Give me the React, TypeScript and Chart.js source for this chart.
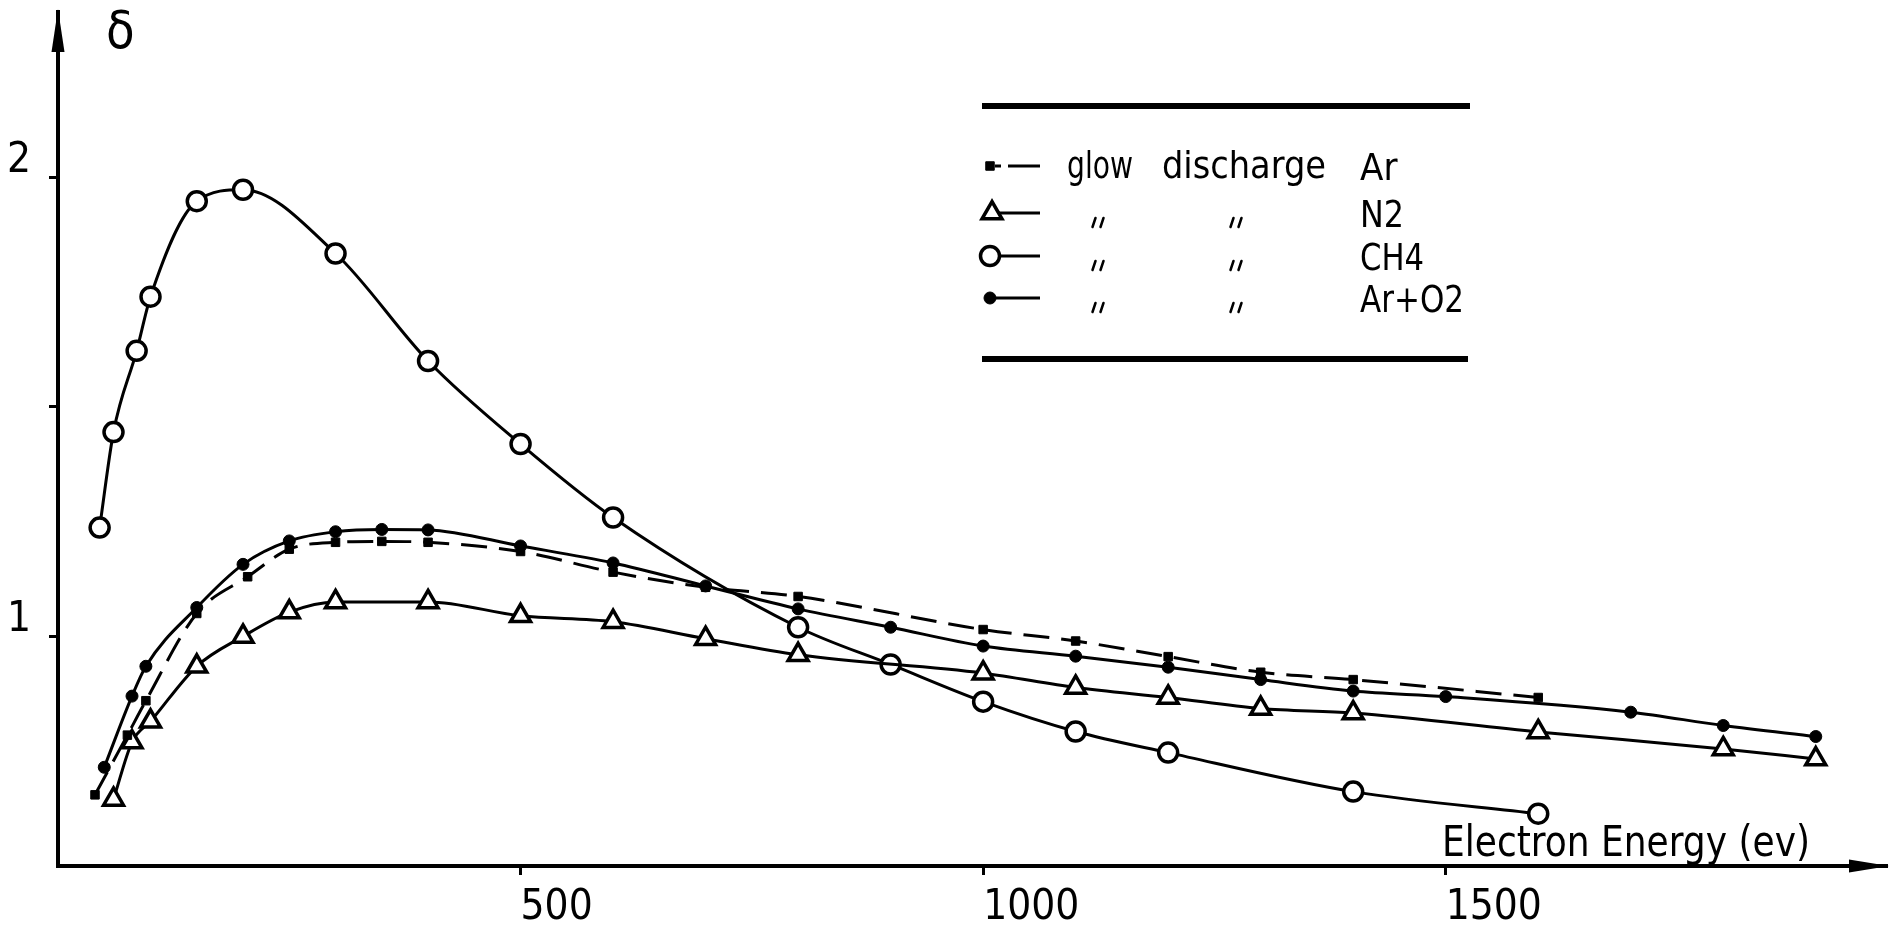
import React, { useEffect, useRef } from 'react';
import { Chart, registerables } from 'chart.js';

Chart.register(...registerables);

// ---- data (electron energy in eV, secondary emission yield δ) ----
const energyAr = [40, 75, 95, 150, 205, 250, 300, 350, 400, 500, 600, 700, 800, 1000, 1100, 1200, 1300, 1400, 1600];
const deltaAr = [0.655, 0.785, 0.86, 1.05, 1.13, 1.19, 1.205, 1.207, 1.205, 1.185, 1.14, 1.107, 1.087, 1.015, 0.99, 0.956, 0.922, 0.906, 0.867];

const energyN2 = [60, 80, 100, 150, 200, 250, 300, 400, 500, 600, 700, 800, 1000, 1100, 1200, 1300, 1400, 1600, 1800, 1900];
const deltaN2 = [0.645, 0.77, 0.815, 0.935, 1.0, 1.053, 1.075, 1.075, 1.045, 1.032, 0.995, 0.96, 0.92, 0.889, 0.867, 0.843, 0.833, 0.792, 0.755, 0.733];

const energyCH4 = [45, 60, 85, 100, 150, 200, 300, 400, 500, 600, 800, 900, 1000, 1100, 1200, 1400, 1600];
const deltaCH4 = [1.237, 1.445, 1.622, 1.74, 1.948, 1.973, 1.834, 1.6, 1.419, 1.259, 1.02, 0.939, 0.858, 0.793, 0.747, 0.662, 0.614];

const energyArO2 = [50, 80, 95, 150, 200, 250, 300, 350, 400, 500, 600, 700, 800, 900, 1000, 1100, 1200, 1300, 1400, 1500, 1700, 1800, 1900];
const deltaArO2 = [0.715, 0.87, 0.935, 1.063, 1.157, 1.208, 1.228, 1.233, 1.232, 1.197, 1.16, 1.11, 1.06, 1.02, 0.979, 0.957, 0.933, 0.906, 0.881, 0.869, 0.835, 0.806, 0.782];

const xTickValues = [500, 1000, 1500];
const xTickLabels = ['500', '1000', '1500'];
const yTickValues = [1, 1.5, 2];
const yTickLabels = ['1', '', '2'];
const seriesNames = ['Ar', 'N2', 'CH4', 'Ar+O2'];
const legendPrefix = ['glow', 'discharge'];
const xAxisTitle = 'Electron Energy (ev)';
const yAxisTitle = '\u03B4';

const X_MIN = 0;
const X_MAX = 1977;
const Y_MIN = 0.5;
const Y_MAX = 2.36;

const FONT = '"Liberation Sans Narrow", "DejaVu Sans Condensed", "Liberation Sans", "DejaVu Sans", sans-serif';

const toPoints = (xs: number[], ys: number[]) => xs.map((x, i) => ({ x, y: ys[i] }));

const decorPlugin = {
  id: 'decor',
  afterDraw(chart: any) {
    const { ctx, chartArea: a } = chart;
    ctx.save();
    ctx.fillStyle = '#000';
    ctx.strokeStyle = '#000';

    // arrow heads
    ctx.beginPath();
    ctx.moveTo(a.left, a.top - 3);
    ctx.lineTo(a.left - 6.5, a.top + 40);
    ctx.lineTo(a.left + 6.5, a.top + 40);
    ctx.closePath();
    ctx.fill();

    ctx.beginPath();
    ctx.moveTo(a.right + 2, a.bottom);
    ctx.lineTo(a.right - 38, a.bottom - 6.5);
    ctx.lineTo(a.right - 38, a.bottom + 6.5);
    ctx.closePath();
    ctx.fill();

    ctx.textAlign = 'left';
    ctx.textBaseline = 'alphabetic';

    // axis titles
    ctx.font = `52px ${FONT}`;
    ctx.fillText(yAxisTitle, a.left + 48, a.top + 36);
    ctx.font = `43px ${FONT}`;
    ctx.fillText(xAxisTitle, 1442, a.bottom - 10, 368);

    // legend box
    const lx0 = 982;
    const lx1 = 1470;
    ctx.lineWidth = 6;
    ctx.beginPath();
    ctx.moveTo(lx0, 106);
    ctx.lineTo(lx1, 106);
    ctx.moveTo(lx0, 359);
    ctx.lineTo(lx1 - 2, 359);
    ctx.stroke();

    const rowY = [166, 213, 256, 298];
    const nameW = [40, 44, 64, 104];
    chart.data.datasets.forEach((ds: any, i: number) => {
      const y = rowY[i];
      // sample line
      ctx.save();
      ctx.lineWidth = 3;
      ctx.setLineDash(ds.borderDash && ds.borderDash.length ? [6, 7, 40] : []);
      ctx.beginPath();
      ctx.moveTo(995, y);
      ctx.lineTo(1040, y);
      ctx.stroke();
      ctx.restore();
      // marker
      ctx.save();
      ctx.lineWidth = ds.pointBorderWidth;
      ctx.fillStyle = ds.pointBackgroundColor;
      ctx.strokeStyle = '#000';
      const r = ds.pointRadius;
      ctx.beginPath();
      if (ds.pointStyle === 'rect') {
        const s = r * Math.SQRT2;
        ctx.rect(990 - s / 2, y - s / 2, s, s);
      } else if (ds.pointStyle === 'triangle') {
        const side = r * Math.sqrt(3);
        const h = side * Math.sqrt(3) / 2;
        ctx.moveTo(992, y - h * 2 / 3);
        ctx.lineTo(992 - side / 2, y + h / 3);
        ctx.lineTo(992 + side / 2, y + h / 3);
        ctx.closePath();
      } else {
        ctx.arc(990, y, r, 0, Math.PI * 2);
      }
      ctx.fill();
      ctx.stroke();
      ctx.restore();

      // texts
      ctx.font = `38px ${FONT}`;
      if (i === 0) {
        ctx.fillText(legendPrefix[0], 1067, y + 12, 66);
        ctx.fillText(legendPrefix[1], 1162, y + 12, 164);
      } else {
        // ditto marks
        ctx.save();
        ctx.lineWidth = 2.5;
        ctx.lineCap = 'round';
        [1098, 1236].forEach((cx) => {
          [-4, 4].forEach((dx) => {
            ctx.beginPath();
            ctx.moveTo(cx + dx - 1.5, y + 14);
            ctx.lineTo(cx + dx + 1.5, y + 5);
            ctx.stroke();
          });
        });
        ctx.restore();
      }
      ctx.fillText(seriesNames[i], 1360, y + 14, nameW[i]);
    });

    ctx.restore();
  },
};

export default function App() {
  const canvasRef = useRef<HTMLCanvasElement | null>(null);

  useEffect(() => {
    document.body.style.margin = '0';
    const canvas = canvasRef.current;
    if (!canvas) return;

    const common = {
      borderColor: '#000',
      borderWidth: 3,
      pointBorderColor: '#000',
      cubicInterpolationMode: 'monotone' as const,
      fill: false,
    };

    const chart = new Chart(canvas, {
      type: 'line',
      data: {
        datasets: [
          {
            ...common,
            label: seriesNames[0],
            data: toPoints(energyAr, deltaAr),
            borderDash: [26, 12],
            pointStyle: 'rect',
            pointRadius: 6,
            pointBackgroundColor: '#000',
            pointBorderWidth: 1,
          },
          {
            ...common,
            label: seriesNames[1],
            data: toPoints(energyN2, deltaN2),
            pointStyle: 'triangle',
            pointRadius: 11.5,
            pointBackgroundColor: '#fff',
            pointBorderWidth: 3.5,
          },
          {
            ...common,
            label: seriesNames[2],
            data: toPoints(energyCH4, deltaCH4),
            pointStyle: 'circle',
            pointRadius: 9.5,
            pointBackgroundColor: '#fff',
            pointBorderWidth: 3.5,
          },
          {
            ...common,
            label: seriesNames[3],
            data: toPoints(energyArO2, deltaArO2),
            pointStyle: 'circle',
            pointRadius: 6,
            pointBackgroundColor: '#000',
            pointBorderWidth: 1,
          },
        ],
      },
      options: {
        animation: false,
        responsive: false,
        layout: { autoPadding: false, padding: { top: 12, right: 2, left: 0, bottom: 0 } },
        plugins: {
          legend: { display: false },
          tooltip: { enabled: false },
          title: { display: false },
        },
        scales: {
          x: {
            type: 'linear',
            min: X_MIN,
            max: X_MAX,
            afterBuildTicks: (scale: any) => {
              scale.ticks = xTickValues.map((v) => ({ value: v }));
            },
            afterFit: (scale: any) => {
              scale.height = 68;
              scale.paddingLeft = 0;
              scale.paddingRight = 0;
            },
            border: { display: true, color: '#000', width: 4 },
            grid: {
              display: true,
              drawOnChartArea: false,
              drawTicks: true,
              tickLength: 9,
              tickWidth: 3,
              tickColor: '#000',
              color: '#000',
            },
            ticks: {
              autoSkip: false,
              maxRotation: 0,
              align: 'start',
              padding: 8,
              color: '#000',
              font: { family: FONT, size: 42 },
              callback: (value: any) => {
                const i = xTickValues.indexOf(Number(value));
                return i >= 0 ? xTickLabels[i] : '';
              },
            },
          },
          y: {
            type: 'linear',
            min: Y_MIN,
            max: Y_MAX,
            afterBuildTicks: (scale: any) => {
              scale.ticks = yTickValues.map((v) => ({ value: v }));
            },
            afterFit: (scale: any) => {
              scale.width = 58;
              scale.paddingTop = 0;
              scale.paddingBottom = 0;
            },
            border: { display: true, color: '#000', width: 4 },
            grid: {
              display: true,
              drawOnChartArea: false,
              drawTicks: true,
              tickLength: 9,
              tickWidth: 3,
              tickColor: '#000',
              color: '#000',
            },
            ticks: {
              autoSkip: false,
              padding: 18,
              labelOffset: -16,
              color: '#000',
              font: { family: FONT, size: 42 },
              callback: (value: any) => {
                const i = yTickValues.indexOf(Number(value));
                return i >= 0 ? yTickLabels[i] : '';
              },
            },
          },
        },
      },
      plugins: [decorPlugin],
    } as any);

    return () => chart.destroy();
  }, []);

  return (
    <div style={{ width: 1889, height: 934, background: '#fff' }}>
      <canvas ref={canvasRef} width={1889} height={934} style={{ display: 'block' }} />
    </div>
  );
}
